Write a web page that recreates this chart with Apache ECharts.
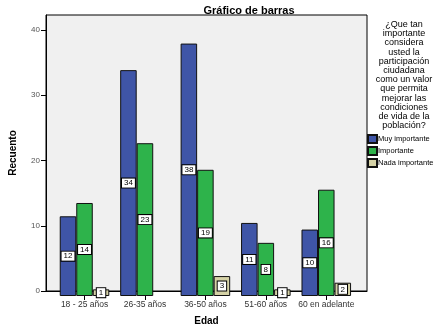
<!DOCTYPE html>
<html><head><meta charset="utf-8">
<script src="https://cdn.jsdelivr.net/npm/echarts@6/dist/echarts.min.js"></script>
<style>html,body{margin:0;padding:0;background:#fff}#c{width:445px;height:331px}</style>
</head><body><div id="c"></div>
<script>
const categories = ['18 - 25 años', '26-35 años', '36-50 años', '51-60 años', '60 en adelante'];
const muyImportante = [12, 34, 38, 11, 10];
const importante = [14, 23, 19, 8, 16];
const nadaImportante = [1, 0, 3, 1, 2];
const seriesNames = ['Muy importante', 'Importante', 'Nada importante'];
const yTicks = [0, 10, 20, 30, 40];
const legendTitle = '¿Que tan\nimportante\nconsidera\nusted la\nparticipación\nciudadana\ncomo un valor\nque permita\nmejorar las\ncondiciones\nde vida de la\npoblación?';

const colors = ['#3F55A7', '#2EB34B', '#D5D2A6'];
const FONT = 'Liberation Sans, Arial, sans-serif';
const YMAX = 42.3;

function mk(name, vals, color) {
  return {
    name: name, type: 'bar', xAxisIndex: 1, yAxisIndex: 1,
    barGap: '0%', barCategoryGap: '18%',
    itemStyle: { color: color, borderColor: '#111', borderWidth: 1 },
    data: vals.map(v => (v > 0 ? { value: v } : '-')),
    label: {
      show: true, position: 'inside', formatter: '{c}',
      backgroundColor: '#fff', borderColor: '#000', borderWidth: 1,
      padding: [1, 2, 0, 2], fontSize: 8, color: '#000', fontFamily: FONT
    },
    emphasis: { disabled: true }
  };
}

const chart = echarts.init(document.getElementById('c'), null, { renderer: 'canvas' });
chart.setOption({
  animation: false,
  backgroundColor: '#fff',
  title: {
    text: 'Gráfico de barras', left: 244, top: 0, textAlign: 'center',
    textStyle: { fontSize: 11, fontWeight: 'bold', color: '#000', fontFamily: FONT }
  },
  graphic: [{
    type: 'text', x: 404, y: 20,
    style: { text: legendTitle, textAlign: 'center', font: '9px ' + FONT, fill: '#000', lineHeight: 9.2 }
  }],
  legend: {
    orient: 'vertical', left: 367, top: 134, padding: 0, itemWidth: 9, itemHeight: 8, itemGap: 2,
    icon: 'rect', selectedMode: false,
    textStyle: { fontSize: 7.5, color: '#000', fontFamily: FONT, padding: [0, 0, 0, -4] },
    data: seriesNames
  },
  grid: [
    { left: 44, right: 78, top: 15, bottom: 35, show: true, backgroundColor: '#F0F0F0', borderColor: '#000', borderWidth: 1 },
    { left: 54.3, right: 88.5, top: 15, bottom: 35 }
  ],
  xAxis: [
    { gridIndex: 0, type: 'value', min: 0, max: 1, show: true,
      axisLine: { show: true, lineStyle: { color: '#000' } }, axisTick: { show: false }, axisLabel: { show: false }, splitLine: { show: false },
      name: 'Edad', nameLocation: 'middle', nameGap: 25,
      nameTextStyle: { fontSize: 10, fontWeight: 'bold', color: '#000', fontFamily: FONT } },
    { gridIndex: 1, type: 'category', data: categories,
      axisLine: { show: false },
      axisTick: { show: true, alignWithLabel: true, length: 4, lineStyle: { color: '#000' } },
      axisLabel: { fontSize: 8.5, color: '#333', margin: 4, fontFamily: FONT, interval: 0 } }
  ],
  yAxis: [
    { gridIndex: 0, type: 'value', min: 0, max: YMAX,
      axisLine: { show: true, lineStyle: { color: '#000' } },
      axisTick: { show: true, length: 5, lineStyle: { color: '#000' }, customValues: yTicks },
      axisLabel: { fontSize: 8, color: '#555', margin: 6, fontFamily: FONT, customValues: yTicks },
      splitLine: { show: false },
      name: 'Recuento', nameLocation: 'middle', nameGap: 28,
      nameTextStyle: { fontSize: 10, fontWeight: 'bold', color: '#000', fontFamily: FONT } },
    { gridIndex: 1, type: 'value', min: 0, max: YMAX, show: false, splitLine: { show: false } }
  ],
  series: [
    mk(seriesNames[0], muyImportante, colors[0]),
    mk(seriesNames[1], importante, colors[1]),
    mk(seriesNames[2], nadaImportante, colors[2])
  ]
});
</script></body></html>
